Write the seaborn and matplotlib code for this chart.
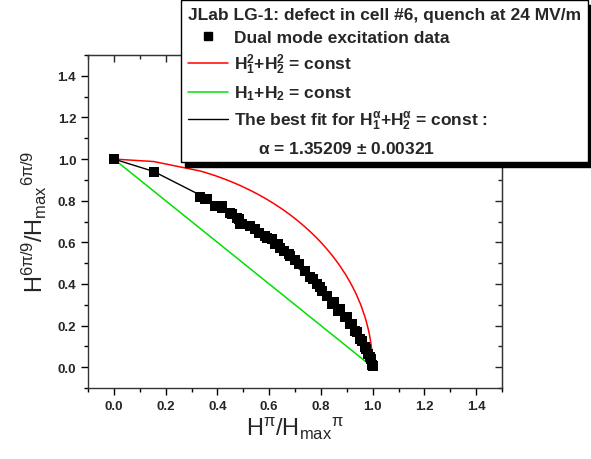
import numpy as np
import pandas as pd
import matplotlib
matplotlib.use("Agg")
import matplotlib.pyplot as plt
import seaborn as sns
from matplotlib.lines import Line2D
from matplotlib.ticker import MultipleLocator

# dual mode excitation data
h_pi = [0.000, 0.154, 0.334, 0.353, 0.360, 0.392, 0.418, 0.418, 0.450, 0.456,
        0.476, 0.482, 0.488, 0.495, 0.527, 0.546, 0.559, 0.585, 0.592, 0.611,
        0.624, 0.636, 0.643, 0.656, 0.675, 0.681, 0.701, 0.714, 0.739, 0.759,
        0.771, 0.785, 0.797, 0.804, 0.823, 0.842, 0.849, 0.868, 0.874, 0.894,
        0.900, 0.913, 0.920, 0.932, 0.939, 0.952, 0.958, 0.971, 0.975, 0.984,
        0.988, 0.993, 0.997, 1.000]
h_6pi9 = [1.000, 0.938, 0.820, 0.807, 0.806, 0.774, 0.774, 0.767, 0.743, 0.735,
          0.719, 0.711, 0.690, 0.687, 0.676, 0.663, 0.647, 0.630, 0.623, 0.614,
          0.594, 0.590, 0.575, 0.560, 0.542, 0.534, 0.514, 0.494, 0.462, 0.431,
          0.422, 0.398, 0.383, 0.366, 0.342, 0.302, 0.311, 0.270, 0.278, 0.239,
          0.239, 0.206, 0.206, 0.174, 0.167, 0.134, 0.126, 0.095, 0.086, 0.062,
          0.047, 0.038, 0.010, 0.006]

alpha_fit = 1.35209
alpha_err = 0.00321

df = pd.DataFrame({"x": h_pi, "y": h_6pi9})

# model curves evaluated at the measured abscissae
xs = np.array(sorted(set(h_pi)))
circle = np.sqrt(np.clip(1 - xs ** 2, 0, None))
best_fit = np.clip(1 - xs ** alpha_fit, 0, None) ** (1 / alpha_fit)
curves = pd.DataFrame({"x": xs, "circle": circle, "fit": best_fit})
linear = pd.DataFrame({"x": [0.0, 1.0], "y": [1.0, 0.0]})

sns.set_style("ticks")
plt.rcParams["font.family"] = ["Liberation Sans", "DejaVu Sans"]
plt.rcParams["mathtext.fontset"] = "custom"
plt.rcParams["mathtext.rm"] = "Liberation Sans"
plt.rcParams["mathtext.default"] = "regular"

fig = plt.figure(figsize=(5.91, 4.60), dpi=100)
ax = fig.add_axes([88 / 591, 1 - 389 / 460, 414 / 591, 333 / 460])

sns.lineplot(data=curves, x="x", y="circle", color="#ff0000", lw=1.1,
             sort=False, ax=ax)
sns.lineplot(data=linear, x="x", y="y", color="#00e000", lw=1.1,
             sort=False, ax=ax)
sns.lineplot(data=curves, x="x", y="fit", color="black", lw=1.0,
             sort=False, ax=ax)
sns.scatterplot(data=df, x="x", y="y", marker="s", s=50, color="black",
                linewidth=0, ax=ax, zorder=3)

ax.set_xlim(-0.1, 1.5)
ax.set_ylim(-0.1, 1.5)
ax.xaxis.set_major_locator(MultipleLocator(0.2))
ax.xaxis.set_minor_locator(MultipleLocator(0.1))
ax.yaxis.set_major_locator(MultipleLocator(0.2))
ax.yaxis.set_minor_locator(MultipleLocator(0.1))
ax.xaxis.set_major_formatter(matplotlib.ticker.FormatStrFormatter("%.1f"))
ax.yaxis.set_major_formatter(matplotlib.ticker.FormatStrFormatter("%.1f"))

ax.tick_params(which="both", direction="out", width=1.0, color="black",
               top=False, right=False)
ax.tick_params(which="major", length=5)
ax.tick_params(which="minor", length=3)
for lab in ax.get_xticklabels() + ax.get_yticklabels():
    lab.set_fontweight("bold")
    lab.set_fontsize(9.5)

# top/right axes with inward ticks and no labels
for side in ["top", "right"]:
    sec = ax.secondary_xaxis("top") if side == "top" else ax.secondary_yaxis("right")
    axis = sec.xaxis if side == "top" else sec.yaxis
    axis.set_major_locator(MultipleLocator(0.2))
    axis.set_minor_locator(MultipleLocator(0.1))
    sec.tick_params(which="both", direction="in", labelsize=0,
                    labeltop=False, labelright=False, width=1.0)
    sec.tick_params(which="major", length=5)
    sec.tick_params(which="minor", length=3)
    axis.set_ticklabels([])

for sp in ax.spines.values():
    sp.set_linewidth(1.0)
    sp.set_color("#333333")

ax.set_xlabel(r"H$^{\pi}$/H$_{max}$$^{\pi}$", fontsize=17, labelpad=2)
ax.set_ylabel(r"H$^{6\pi/9}$/H$_{max}$$^{6\pi/9}$", fontsize=17, labelpad=6)

handles = [
    Line2D([], [], ls="none", marker="s", markersize=6, color="black"),
    Line2D([], [], color="#ff0000", lw=1.1),
    Line2D([], [], color="#00e000", lw=1.1),
    Line2D([], [], color="black", lw=1.0),
    Line2D([], [], ls="none"),
]
labels = [
    "Dual mode excitation data",
    r"H$_1^2$+H$_2^2$ = const",
    r"H$_1$+H$_2$ = const",
    r"The best fit for H$_1^{\alpha}$+H$_2^{\alpha}$ = const :",
    r"     $\alpha$ = %.5f $\pm$ %.5f" % (alpha_fit, alpha_err),
]
leg = ax.legend(handles, labels,
                title="JLab LG-1: defect in cell #6, quench at 24 MV/m",
                title_fontproperties={"weight": "bold", "size": 12.5},
                prop={"weight": "bold", "size": 12.5},
                loc="upper left", bbox_to_anchor=(181 / 591, 0.997),
                bbox_transform=fig.transFigure, borderaxespad=0,
                frameon=True, fancybox=False, edgecolor="black",
                framealpha=1, handlelength=2.3, handletextpad=0.35,
                labelspacing=0.42, borderpad=0.4, alignment="left",
                shadow={"ox": 3, "oy": -3, "facecolor": "black",
                        "edgecolor": "black", "alpha": 1})
leg.get_frame().set_linewidth(1.0)
leg.set_zorder(10)

fig.savefig("out.png", dpi=100)
